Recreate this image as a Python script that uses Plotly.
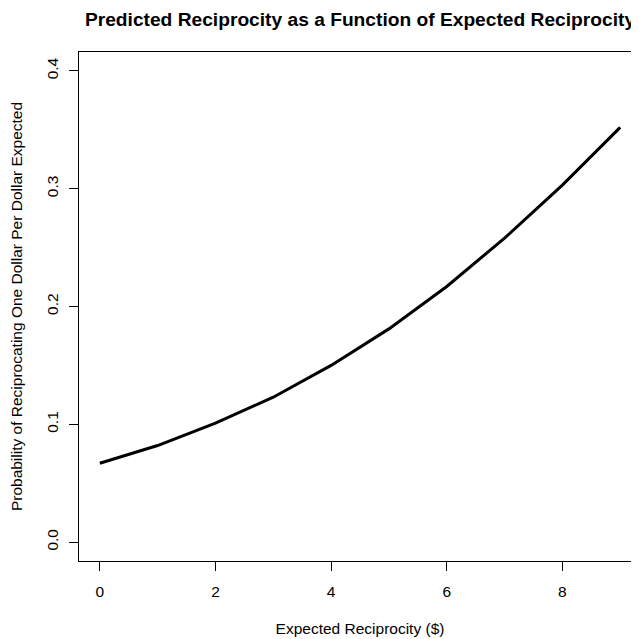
import plotly.graph_objects as go

expected = [0, 1, 2, 3, 4, 5, 6, 7, 8, 9]
predicted = [0.067, 0.082, 0.101, 0.123, 0.150, 0.181, 0.217, 0.258, 0.303, 0.352]
x_ticks = [0, 2, 4, 6, 8]
y_ticks = [0.0, 0.1, 0.2, 0.3, 0.4]
y_tick_text = ["0.0", "0.1", "0.2", "0.3", "0.4"]

FONT = "Liberation Sans, Arial, sans-serif"

fig = go.Figure()
fig.add_trace(go.Scatter(x=expected, y=predicted, mode="lines",
                         line=dict(color="black", width=3), showlegend=False))

fig.update_layout(
    width=639, height=639,
    paper_bgcolor="white", plot_bgcolor="white",
    margin=dict(l=71, r=6, t=44, b=86, pad=0),
    font=dict(family=FONT, size=15.5, color="black"),
    title=dict(text="<b>Predicted Reciprocity as a Function of Expected Reciprocity</b>",
               x=352/639, xanchor="center", y=1-10.8/639, yanchor="middle",
               font=dict(family=FONT, size=19.2, color="black")),
)
fig.update_xaxes(range=[-0.36, 9.36], tickvals=x_ticks, ticks="outside", ticklen=9,
                 tickcolor="black", showline=True, linecolor="black", linewidth=1,
                 mirror=True, showgrid=False, zeroline=False, automargin=False,
                 ticklabelstandoff=7, tickfont=dict(size=15.5),
                 title=dict(text="Expected Reciprocity ($)", standoff=24,
                            font=dict(family=FONT, size=15.5)))
fig.update_yaxes(range=[-0.016, 0.416], tickvals=y_ticks, ticktext=y_tick_text,
                 ticks="outside", ticklen=9, tickcolor="black", tickangle=-90,
                 showline=True, linecolor="black", linewidth=1, showgrid=False,
                 zeroline=False, automargin=False, ticklabelstandoff=5,
                 tickfont=dict(size=15.5),
                 title=dict(text="Probability of Reciprocating One Dollar Per Dollar Expected",
                            standoff=17, font=dict(family=FONT, size=15.5)))

fig.write_html("out.html")
